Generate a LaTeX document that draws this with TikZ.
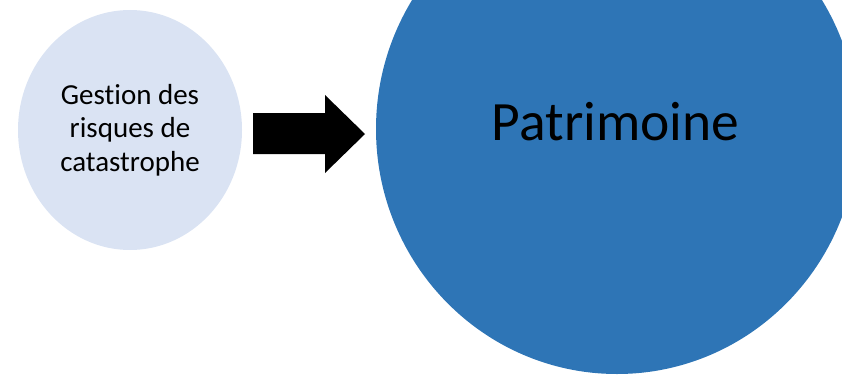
\documentclass[tikz,border=0pt]{standalone}
\usepackage{fontspec}
\setmainfont{Carlito}[Ligatures=NoCommon]
\usetikzlibrary{shapes.geometric}
\definecolor{palebleu}{HTML}{DAE3F3}
\definecolor{bleupatr}{HTML}{2E75B6}
\begin{document}
\begin{tikzpicture}[x=1pt, y=-1pt,
  bulle/.style={ellipse, inner sep=0pt, draw=none},
  fleche/.style={fill=black, draw=none}]

\useasboundingbox (0,0) rectangle (842,377);

% petite bulle a gauche
\node[bulle, fill=palebleu, minimum width=224pt, minimum height=240pt] (gestion) at (130,130) {};
\node[align=center, font=\fontsize{29}{33.5}\selectfont, inner sep=0pt] (gestiontxt) at (gestion.center) {Gestion des\\risques de\\catastrophe};

% grande bulle, coupee par le bord
\begin{scope}
\clip (0,0) rectangle (842,377);
\node[bulle, fill=bleupatr, minimum width=482pt, minimum height=490pt] (patrimoine) at (617,129) {};
\end{scope}
\node[anchor=base, font=\fontsize{55.5}{60}\selectfont, inner sep=0pt] (patrtxt) at (615.5,140) {Patrimoine};

% fleche pleine entre les deux
\coordinate (f1) at (253,113);
\coordinate (f2) at (325,113);
\coordinate (f3) at (325,95);
\coordinate (f4) at (365,134);
\coordinate (f5) at (325,173);
\coordinate (f6) at (325,154);
\coordinate (f7) at (253,154);
\fill[fleche] (f1) -- (f2) -- (f3) -- (f4) -- (f5) -- (f6) -- (f7) -- cycle;

\end{tikzpicture}
\end{document}
